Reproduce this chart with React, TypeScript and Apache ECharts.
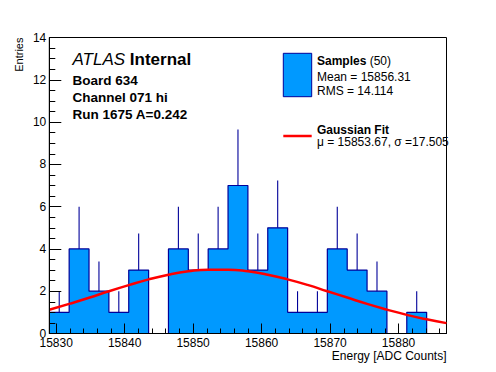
import React, { useEffect, useRef } from "react";
import * as echarts from "echarts";

// ---- data ----
const binEdges = [
  15829, 15831.9, 15834.8, 15837.7, 15840.6, 15843.5, 15846.4, 15849.3, 15852.2, 15855.1,
  15858.0, 15860.9, 15863.8, 15866.7, 15869.6, 15872.5, 15875.4, 15878.3, 15881.2, 15884.1, 15887.0,
];
const counts = [1, 4, 2, 1, 3, 0, 4, 3, 4, 7, 3, 5, 1, 1, 4, 3, 2, 0, 1, 0];
const errors = [1, 2, 1.41, 1, 1.73, 0, 2, 1.73, 2, 2.65, 1.73, 2.24, 1, 1, 2, 1.73, 1.41, 0, 1, 0];

const fitX = binEdges;
const fitY = [
  1.12, 1.4, 1.69, 2.0, 2.29, 2.56, 2.78, 2.94, 3.02, 3.02, 2.94, 2.78, 2.56, 2.3, 2.0, 1.7, 1.4,
  1.13, 0.88, 0.67, 0.49,
];

const xMajorTicks = [15830, 15840, 15850, 15860, 15870, 15880];
const xMinorTicks = [
  15832, 15834, 15836, 15838, 15842, 15844, 15846, 15848, 15852, 15854, 15856, 15858, 15862,
  15864, 15866, 15868, 15872, 15874, 15876, 15878, 15882, 15884, 15886,
];
const xMin = 15829;
const xMax = 15887;
const yMin = 0;
const yMax = 14;
const yInterval = 2;

const sampleCount = 50;
const meanText = "15856.31";
const rmsText = "14.114";
const fitMuText = "15853.67";
const fitSigmaText = "17.505";
const titleLines = ["Board 634", "Channel 071 hi", "Run 1675 A=0.242"];

const FONT = '"Liberation Sans", Arial, Helvetica, sans-serif';
const FILL = "#0099ff";
const EDGE = "#000099";

export default function App() {
  const ref = useRef<HTMLDivElement | null>(null);

  useEffect(() => {
    if (!ref.current) return;
    const chart = echarts.init(ref.current, undefined, { renderer: "svg" });

    const histData = binEdges.map((x, i) => [x, i < counts.length ? counts[i] : 0]);
    const errData = counts
      .map((c, i) => [(binEdges[i] + binEdges[i + 1]) / 2, c, errors[i]])
      .filter((d) => d[1] > 0);
    const fitData = fitX.map((x, i) => [x, fitY[i]]);

    const option: any = {
      animation: false,
      backgroundColor: "#ffffff",
      grid: {
        left: 49.3,
        right: 49.5,
        top: 37.5,
        bottom: 38.5,
        show: true,
        borderColor: "#000",
        borderWidth: 1,
        backgroundColor: "transparent",
        outerBoundsMode: "none",
      },
      xAxis: [
        {
          type: "value",
          min: xMin,
          max: xMax,
          position: "bottom",
          z: 10,
          axisLine: { show: true, onZero: false, lineStyle: { color: "#000", width: 1 } },
          axisTick: {
            show: true,
            inside: true,
            length: 10,
            customValues: xMajorTicks,
            lineStyle: { color: "#000", width: 1 },
          },
          axisLabel: {
            customValues: xMajorTicks,
            formatter: (v: number) => String(v),
            fontFamily: FONT,
            fontSize: 12,
            color: "#000",
            margin: 3,
          },
          splitLine: { show: false },
          name: "Energy [ADC Counts]",
          nameLocation: "end",
          nameGap: 0,
          nameTextStyle: {
            fontFamily: FONT,
            fontSize: 12,
            color: "#000",
            align: "right",
            verticalAlign: "top",
            padding: [16, 0, 0, 0],
          },
        },
        {
          type: "value",
          min: xMin,
          max: xMax,
          position: "bottom",
          z: 10,
          axisLine: { show: false, onZero: false },
          axisTick: {
            show: true,
            inside: true,
            length: 5,
            customValues: xMinorTicks,
            lineStyle: { color: "#000", width: 1 },
          },
          axisLabel: { show: false },
          splitLine: { show: false },
        },
      ],
      yAxis: {
        type: "value",
        min: yMin,
        max: yMax,
        interval: yInterval,
        z: 10,
        axisLine: { show: true, onZero: false, lineStyle: { color: "#000", width: 1 } },
        axisTick: { show: true, inside: true, length: 12, lineStyle: { color: "#000", width: 1 } },
        minorTick: { show: true, splitNumber: 4, length: 6, lineStyle: { color: "#000", width: 1 } },
        axisLabel: { fontFamily: FONT, fontSize: 12, color: "#000", margin: 3 },
        splitLine: { show: false },
        minorSplitLine: { show: false },
      },
      series: [
        {
          type: "line",
          name: "Samples",
          xAxisIndex: 0,
          data: histData,
          step: "end",
          symbol: "none",
          z: 2,
          lineStyle: { color: EDGE, width: 1.2 },
          areaStyle: { color: FILL, opacity: 1 },
        },
        {
          type: "custom",
          name: "Errors",
          xAxisIndex: 0,
          data: errData,
          encode: { x: 0, y: 1 },
          z: 3,
          renderItem: (params: any, api: any) => {
            const x = api.value(0);
            const y = api.value(1);
            const e = api.value(2);
            const p1 = api.coord([x, y]);
            const p2 = api.coord([x, y + e]);
            return {
              type: "line",
              shape: { x1: p1[0], y1: p1[1], x2: p2[0], y2: p2[1] },
              style: { stroke: EDGE, lineWidth: 1.1 },
            };
          },
        },
        {
          type: "line",
          name: "Gaussian Fit",
          xAxisIndex: 0,
          data: fitData,
          smooth: true,
          symbol: "none",
          z: 4,
          lineStyle: { color: "#ff0000", width: 2.5 },
        },
      ],
      graphic: [
        {
          type: "text",
          x: 19,
          y: 37.5,
          rotation: Math.PI / 2,
          style: {
            text: "Entries",
            fontFamily: FONT,
            fontSize: 11,
            fill: "#000",
            align: "right",
            verticalAlign: "middle",
          },
        },
        {
          type: "text",
          x: 72.5,
          y: 59.5,
          style: {
            text: "{a|ATLAS }{b|Internal}",
            verticalAlign: "middle",
            rich: {
              a: { fontFamily: FONT, fontSize: 17, fontStyle: "italic", fill: "#000" },
              b: { fontFamily: FONT, fontSize: 17, fontWeight: "bold", fill: "#000" },
            },
          },
        },
        ...titleLines.map((t, i) => ({
          type: "text",
          x: 72.5,
          y: 80 + i * 17.2,
          style: {
            text: t,
            fontFamily: FONT,
            fontSize: 13.5,
            fontWeight: "bold",
            fill: "#000",
            verticalAlign: "middle",
          },
        })),
        {
          type: "rect",
          shape: { x: 283.3, y: 53.3, width: 28.4, height: 43.4 },
          style: { fill: FILL, stroke: EDGE, lineWidth: 1 },
        },
        {
          type: "text",
          x: 317,
          y: 61,
          style: {
            text: "{b|Samples} {n|(" + sampleCount + ")}",
            verticalAlign: "middle",
            rich: {
              b: { fontFamily: FONT, fontSize: 12, fontWeight: "bold", fill: "#000" },
              n: { fontFamily: FONT, fontSize: 12, fill: "#000" },
            },
          },
        },
        {
          type: "text",
          x: 317,
          y: 76.5,
          style: {
            text: "Mean = " + meanText,
            fontFamily: FONT,
            fontSize: 12,
            fill: "#000",
            verticalAlign: "middle",
          },
        },
        {
          type: "text",
          x: 317,
          y: 90.5,
          style: {
            text: "RMS = " + rmsText,
            fontFamily: FONT,
            fontSize: 12,
            fill: "#000",
            verticalAlign: "middle",
          },
        },
        {
          type: "line",
          shape: { x1: 283.3, y1: 136, x2: 311.7, y2: 136 },
          style: { stroke: "#ff0000", lineWidth: 2.5 },
        },
        {
          type: "text",
          x: 317,
          y: 129.5,
          style: {
            text: "Gaussian Fit",
            fontFamily: FONT,
            fontSize: 12,
            fontWeight: "bold",
            fill: "#000",
            verticalAlign: "middle",
          },
        },
        {
          type: "text",
          x: 317,
          y: 142,
          style: {
            text: "\u03bc = " + fitMuText + ", \u03c3 =" + fitSigmaText,
            fontFamily: FONT,
            fontSize: 12,
            fill: "#000",
            verticalAlign: "middle",
          },
        },
      ],
    };

    chart.setOption(option);
    return () => {
      chart.dispose();
    };
  }, []);

  return (
    <div
      ref={ref}
      style={{ position: "absolute", left: 0, top: 0, width: 496, height: 372, background: "#fff" }}
    />
  );
}
